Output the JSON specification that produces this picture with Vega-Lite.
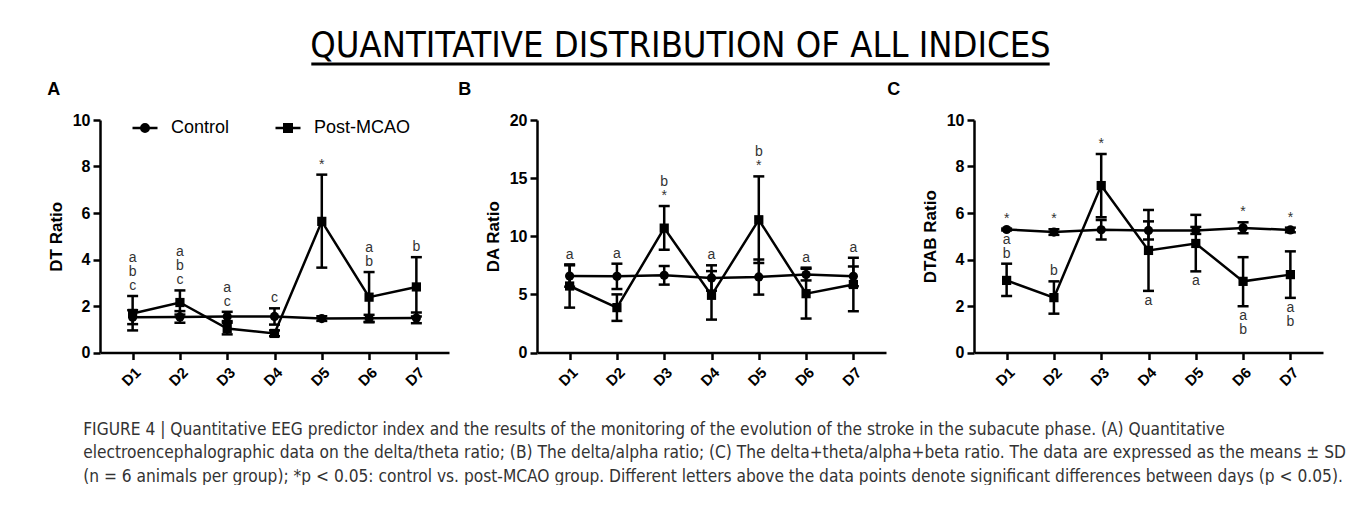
{
  "$schema": "https://vega.github.io/schema/vega-lite/v6.json",
  "background": "white",
  "padding": {"left": 47, "top": 18, "right": 0, "bottom": 0},
  "datasets": {
    "A": [
      {"day": "D1", "group": "Control", "mean": 1.52, "lower": 1.22, "upper": 1.82, "above": [], "below": []},
      {"day": "D1", "group": "Post-MCAO", "mean": 1.68, "lower": 0.95, "upper": 2.43, "above": ["a", "b", "c"], "below": []},
      {"day": "D2", "group": "Control", "mean": 1.53, "lower": 1.28, "upper": 1.78, "above": [], "below": []},
      {"day": "D2", "group": "Post-MCAO", "mean": 2.15, "lower": 1.63, "upper": 2.67, "above": ["a", "b", "c"], "below": []},
      {"day": "D3", "group": "Control", "mean": 1.55, "lower": 1.35, "upper": 1.75, "above": ["a", "c"], "below": []},
      {"day": "D3", "group": "Post-MCAO", "mean": 1.03, "lower": 0.78, "upper": 1.28, "above": [], "below": []},
      {"day": "D4", "group": "Control", "mean": 1.55, "lower": 1.2, "upper": 1.9, "above": ["c"], "below": []},
      {"day": "D4", "group": "Post-MCAO", "mean": 0.82, "lower": 0.7, "upper": 0.95, "above": [], "below": []},
      {"day": "D5", "group": "Control", "mean": 1.46, "lower": 1.36, "upper": 1.56, "above": [], "below": []},
      {"day": "D5", "group": "Post-MCAO", "mean": 5.64, "lower": 3.65, "upper": 7.65, "above": ["*"], "below": []},
      {"day": "D6", "group": "Control", "mean": 1.47, "lower": 1.32, "upper": 1.62, "above": [], "below": []},
      {"day": "D6", "group": "Post-MCAO", "mean": 2.38, "lower": 1.3, "upper": 3.46, "above": ["a", "b"], "below": []},
      {"day": "D7", "group": "Control", "mean": 1.48, "lower": 1.26, "upper": 1.72, "above": [], "below": []},
      {"day": "D7", "group": "Post-MCAO", "mean": 2.82, "lower": 1.55, "upper": 4.1, "above": ["b"], "below": []}
    ],
    "B": [
      {"day": "D1", "group": "Control", "mean": 6.58, "lower": 5.66, "upper": 7.5, "above": ["a"], "below": []},
      {"day": "D1", "group": "Post-MCAO", "mean": 5.72, "lower": 3.86, "upper": 7.58, "above": [], "below": []},
      {"day": "D2", "group": "Control", "mean": 6.55, "lower": 5.46, "upper": 7.64, "above": ["a"], "below": []},
      {"day": "D2", "group": "Post-MCAO", "mean": 3.86, "lower": 2.72, "upper": 5.0, "above": [], "below": []},
      {"day": "D3", "group": "Control", "mean": 6.64, "lower": 5.84, "upper": 7.44, "above": [], "below": []},
      {"day": "D3", "group": "Post-MCAO", "mean": 10.7, "lower": 8.84, "upper": 12.6, "above": ["b", "*"], "below": []},
      {"day": "D4", "group": "Control", "mean": 6.41, "lower": 5.32, "upper": 7.5, "above": ["a"], "below": []},
      {"day": "D4", "group": "Post-MCAO", "mean": 4.92, "lower": 2.83, "upper": 7.0, "above": [], "below": []},
      {"day": "D5", "group": "Control", "mean": 6.5, "lower": 4.98, "upper": 8.0, "above": [], "below": []},
      {"day": "D5", "group": "Post-MCAO", "mean": 11.42, "lower": 7.7, "upper": 15.15, "above": ["b", "*"], "below": []},
      {"day": "D6", "group": "Control", "mean": 6.7, "lower": 6.2, "upper": 7.3, "above": ["a"], "below": []},
      {"day": "D6", "group": "Post-MCAO", "mean": 5.06, "lower": 2.92, "upper": 7.2, "above": [], "below": []},
      {"day": "D7", "group": "Control", "mean": 6.55, "lower": 5.7, "upper": 7.4, "above": [], "below": []},
      {"day": "D7", "group": "Post-MCAO", "mean": 5.85, "lower": 3.55, "upper": 8.15, "above": ["a"], "below": []}
    ],
    "C": [
      {"day": "D1", "group": "Control", "mean": 5.29, "lower": 5.25, "upper": 5.33, "above": ["*"], "below": []},
      {"day": "D1", "group": "Post-MCAO", "mean": 3.1, "lower": 2.43, "upper": 3.82, "above": ["a", "b"], "below": []},
      {"day": "D2", "group": "Control", "mean": 5.18, "lower": 5.06, "upper": 5.3, "above": ["*"], "below": []},
      {"day": "D2", "group": "Post-MCAO", "mean": 2.36, "lower": 1.67, "upper": 3.06, "above": ["b"], "below": []},
      {"day": "D3", "group": "Control", "mean": 5.28, "lower": 4.86, "upper": 5.7, "above": [], "below": []},
      {"day": "D3", "group": "Post-MCAO", "mean": 7.18, "lower": 5.82, "upper": 8.54, "above": ["*"], "below": []},
      {"day": "D4", "group": "Control", "mean": 5.25, "lower": 4.86, "upper": 5.64, "above": [], "below": []},
      {"day": "D4", "group": "Post-MCAO", "mean": 4.39, "lower": 2.65, "upper": 6.13, "above": [], "below": ["a"]},
      {"day": "D5", "group": "Control", "mean": 5.25, "lower": 5.1, "upper": 5.4, "above": [], "below": []},
      {"day": "D5", "group": "Post-MCAO", "mean": 4.69, "lower": 3.49, "upper": 5.92, "above": [], "below": ["a"]},
      {"day": "D6", "group": "Control", "mean": 5.36, "lower": 5.13, "upper": 5.6, "above": ["*"], "below": []},
      {"day": "D6", "group": "Post-MCAO", "mean": 3.06, "lower": 1.99, "upper": 4.1, "above": [], "below": ["a", "b"]},
      {"day": "D7", "group": "Control", "mean": 5.27, "lower": 5.17, "upper": 5.37, "above": ["*"], "below": []},
      {"day": "D7", "group": "Post-MCAO", "mean": 3.35, "lower": 2.35, "upper": 4.35, "above": [], "below": ["a", "b"]}
    ]
  },
  "vconcat": [
    {
      "width": 1161,
      "height": 46,
      "data": {"values": [{"heading": "QUANTITATIVE DISTRIBUTION OF ALL INDICES"}]},
      "layer": [
        {
          "mark": {"type": "text", "font": "Liberation Sans Narrow, DejaVu Sans Condensed, sans-serif", "fontSize": 36, "baseline": "alphabetic", "align": "center", "dy": -7, "color": "black"},
          "encoding": {
            "x": {"datum": 0.5, "type": "quantitative", "scale": {"domain": [0, 1]}, "axis": null},
            "y": {"datum": 0, "type": "quantitative", "scale": {"domain": [0, 1]}, "axis": null},
            "text": {"field": "heading"}
          }
        },
        {
          "mark": {"type": "rule", "strokeWidth": 3, "color": "black"},
          "encoding": {
            "x": {"datum": 0.182, "type": "quantitative"},
            "x2": {"datum": 0.818},
            "y": {"datum": 0, "type": "quantitative"}
          }
        }
      ]
    },
    {
      "hconcat": [
        {
          "width": 349, "height": 232.5,
          "title": {"text": "A"},
          "data": {"name": "A"},
          "encoding": {"x": {"field": "day", "type": "ordinal", "scale": {"type": "point", "padding": 0.69}, "axis": {"title": null}}},
          "resolve": {"scale": {"shape": "independent"}},
          "layer": [
            {"mark": {"type": "line", "color": "black", "strokeWidth": 2.5},
             "encoding": {"y": {"field": "mean", "type": "quantitative", "title": "DT Ratio", "scale": {"domain": [0, 10], "nice": false}, "axis": {"values": [0, 2, 4, 6, 8, 10]}}, "detail": {"field": "group"}}},
            {"mark": {"type": "rule", "color": "black", "strokeWidth": 2.5},
             "encoding": {"y": {"field": "lower", "type": "quantitative", "title": "DT Ratio"}, "y2": {"field": "upper"}}},
            {"mark": {"type": "tick", "color": "black", "thickness": 2.5, "size": 11, "opacity": 1},
             "encoding": {"y": {"field": "upper", "type": "quantitative", "title": "DT Ratio"}}},
            {"mark": {"type": "tick", "color": "black", "thickness": 2.5, "size": 11, "opacity": 1},
             "encoding": {"y": {"field": "lower", "type": "quantitative", "title": "DT Ratio"}}},
            {"mark": {"type": "point", "filled": true, "color": "black", "opacity": 1, "size": 85, "strokeWidth": 0},
             "encoding": {
               "y": {"field": "mean", "type": "quantitative", "title": "DT Ratio"},
               "shape": {"field": "group", "type": "nominal", "scale": {"domain": ["Control", "Post-MCAO"], "range": ["circle", "square"]}, "legend": null}
             }},
            {"transform": [{"filter": "false"}],
             "mark": {"type": "point", "filled": false, "color": "black", "strokeWidth": 2.5, "opacity": 1},
             "encoding": {
               "y": {"field": "mean", "type": "quantitative", "title": "DT Ratio"},
               "shape": {"field": "group", "type": "nominal",
                 "scale": {"domain": ["Control", "Post-MCAO"], "range": [
                   "M-1,0L1,0M0.3,0A0.3,0.3,0,1,1,-0.3,0A0.3,0.3,0,1,1,0.3,0M0.18,0A0.18,0.18,0,1,1,-0.18,0A0.18,0.18,0,1,1,0.18,0M0.06,0A0.06,0.06,0,1,1,-0.06,0A0.06,0.06,0,1,1,0.06,0",
                   "M-1,0L1,0M-0.3,-0.3L0.3,-0.3L0.3,0.3L-0.3,0.3ZM-0.18,-0.18L0.18,-0.18L0.18,0.18L-0.18,0.18ZM-0.06,-0.06L0.06,-0.06L0.06,0.06L-0.06,0.06Z"]},
                 "legend": {"orient": "none", "legendX": 31, "legendY": -6, "direction": "horizontal", "title": null, "symbolSize": 625, "labelFontSize": 18, "labelFont": "Liberation Sans", "labelColor": "black", "labelFontWeight": "normal", "columnPadding": 40, "labelOffset": 12, "padding": 0, "symbolStrokeWidth": 2.5, "symbolStrokeColor": "black", "symbolOpacity": 1}}
             }},
            {"transform": [{"filter": "length(datum.above) > 0"}],
             "mark": {"type": "text", "baseline": "bottom", "dy": {"expr": "-3 - 14 * (length(datum.above) - 1)"}, "fontSize": 14, "lineHeight": 14, "color": "#333", "font": "Liberation Sans"},
             "encoding": {"y": {"field": "upper", "type": "quantitative", "title": "DT Ratio"}, "text": {"field": "above"}}},
            {"transform": [{"filter": "length(datum.below) > 0"}],
             "mark": {"type": "text", "baseline": "top", "dy": 3, "fontSize": 14, "lineHeight": 14, "color": "#333", "font": "Liberation Sans"},
             "encoding": {"y": {"field": "lower", "type": "quantitative", "title": "DT Ratio"}, "text": {"field": "below"}}}
          ]
        },
        {
          "width": 349, "height": 232.5,
          "title": {"text": "B", "dx": -26},
          "data": {"name": "B"},
          "encoding": {"x": {"field": "day", "type": "ordinal", "scale": {"type": "point", "padding": 0.69}, "axis": {"title": null}}},
          "layer": [
            {"mark": {"type": "line", "color": "black", "strokeWidth": 2.5},
             "encoding": {"y": {"field": "mean", "type": "quantitative", "title": "DA Ratio", "scale": {"domain": [0, 20], "nice": false}, "axis": {"values": [0, 5, 10, 15, 20]}}, "detail": {"field": "group"}}},
            {"mark": {"type": "rule", "color": "black", "strokeWidth": 2.5},
             "encoding": {"y": {"field": "lower", "type": "quantitative", "title": "DA Ratio"}, "y2": {"field": "upper"}}},
            {"mark": {"type": "tick", "color": "black", "thickness": 2.5, "size": 11, "opacity": 1},
             "encoding": {"y": {"field": "upper", "type": "quantitative", "title": "DA Ratio"}}},
            {"mark": {"type": "tick", "color": "black", "thickness": 2.5, "size": 11, "opacity": 1},
             "encoding": {"y": {"field": "lower", "type": "quantitative", "title": "DA Ratio"}}},
            {"mark": {"type": "point", "filled": true, "color": "black", "opacity": 1, "size": 85, "strokeWidth": 0},
             "encoding": {
               "y": {"field": "mean", "type": "quantitative", "title": "DA Ratio"},
               "shape": {"field": "group", "type": "nominal", "scale": {"domain": ["Control", "Post-MCAO"], "range": ["circle", "square"]}, "legend": null}
             }},
            {"transform": [{"filter": "length(datum.above) > 0"}],
             "mark": {"type": "text", "baseline": "bottom", "dy": {"expr": "-3 - 14 * (length(datum.above) - 1)"}, "fontSize": 14, "lineHeight": 14, "color": "#333", "font": "Liberation Sans"},
             "encoding": {"y": {"field": "upper", "type": "quantitative", "title": "DA Ratio"}, "text": {"field": "above"}}},
            {"transform": [{"filter": "length(datum.below) > 0"}],
             "mark": {"type": "text", "baseline": "top", "dy": 3, "fontSize": 14, "lineHeight": 14, "color": "#333", "font": "Liberation Sans"},
             "encoding": {"y": {"field": "lower", "type": "quantitative", "title": "DA Ratio"}, "text": {"field": "below"}}}
          ]
        },
        {
          "width": 349, "height": 232.5,
          "title": {"text": "C", "dx": -34},
          "data": {"name": "C"},
          "encoding": {"x": {"field": "day", "type": "ordinal", "scale": {"type": "point", "padding": 0.69}, "axis": {"title": null}}},
          "layer": [
            {"mark": {"type": "line", "color": "black", "strokeWidth": 2.5},
             "encoding": {"y": {"field": "mean", "type": "quantitative", "title": "DTAB Ratio", "scale": {"domain": [0, 10], "nice": false}, "axis": {"values": [0, 2, 4, 6, 8, 10]}}, "detail": {"field": "group"}}},
            {"mark": {"type": "rule", "color": "black", "strokeWidth": 2.5},
             "encoding": {"y": {"field": "lower", "type": "quantitative", "title": "DTAB Ratio"}, "y2": {"field": "upper"}}},
            {"mark": {"type": "tick", "color": "black", "thickness": 2.5, "size": 11, "opacity": 1},
             "encoding": {"y": {"field": "upper", "type": "quantitative", "title": "DTAB Ratio"}}},
            {"mark": {"type": "tick", "color": "black", "thickness": 2.5, "size": 11, "opacity": 1},
             "encoding": {"y": {"field": "lower", "type": "quantitative", "title": "DTAB Ratio"}}},
            {"mark": {"type": "point", "filled": true, "color": "black", "opacity": 1, "size": 85, "strokeWidth": 0},
             "encoding": {
               "y": {"field": "mean", "type": "quantitative", "title": "DTAB Ratio"},
               "shape": {"field": "group", "type": "nominal", "scale": {"domain": ["Control", "Post-MCAO"], "range": ["circle", "square"]}, "legend": null}
             }},
            {"transform": [{"filter": "length(datum.above) > 0"}],
             "mark": {"type": "text", "baseline": "bottom", "dy": {"expr": "-3 - 14 * (length(datum.above) - 1)"}, "fontSize": 14, "lineHeight": 14, "color": "#333", "font": "Liberation Sans"},
             "encoding": {"y": {"field": "upper", "type": "quantitative", "title": "DTAB Ratio"}, "text": {"field": "above"}}},
            {"transform": [{"filter": "length(datum.below) > 0"}],
             "mark": {"type": "text", "baseline": "top", "dy": 3, "fontSize": 14, "lineHeight": 14, "color": "#333", "font": "Liberation Sans"},
             "encoding": {"y": {"field": "lower", "type": "quantitative", "title": "DTAB Ratio"}, "text": {"field": "below"}}}
          ]
        }
      ],
      "spacing": 88,
      "bounds": "flush",
      "resolve": {"scale": {"shape": "independent"}},
      "title": {
        "text": [
          "FIGURE 4 | Quantitative EEG predictor index and the results of the monitoring of the evolution of the stroke in the subacute phase. (A) Quantitative",
          "electroencephalographic data on the delta/theta ratio; (B) The delta/alpha ratio; (C) The delta+theta/alpha+beta ratio. The data are expressed as the means ± SD",
          "(n = 6 animals per group); *p < 0.05: control vs. post-MCAO group. Different letters above the data points denote significant differences between days (p < 0.05)."
        ],
        "orient": "bottom",
        "anchor": "start",
        "frame": "bounds",
        "offset": 32,
        "dx": 36,
        "font": "Liberation Sans Narrow, DejaVu Sans Condensed, sans-serif",
        "fontSize": 17.2,
        "fontWeight": "normal",
        "lineHeight": 23.5,
        "color": "#333333"
      }
    }
  ],
  "spacing": 15,
  "config": {
    "view": {"stroke": null},
    "font": "Liberation Sans",
    "title": {"font": "Liberation Sans", "fontSize": 18, "fontWeight": "bold", "anchor": "start", "frame": "bounds", "offset": 13, "color": "black"},
    "axis": {
      "domainColor": "black", "domainWidth": 2.5, "tickColor": "black", "tickWidth": 2.5, "tickSize": 7,
      "labelColor": "black", "labelFont": "Liberation Sans", "labelFontWeight": "bold", "labelFontSize": 16, "labelPadding": 3,
      "titleFont": "Liberation Sans", "titleFontSize": 17, "titleFontWeight": "bold", "titleColor": "black", "titlePadding": 7, "grid": false
    },
    "axisX": {"labelAngle": -45, "labelFontSize": 15, "labelPadding": 5}
  }
}
